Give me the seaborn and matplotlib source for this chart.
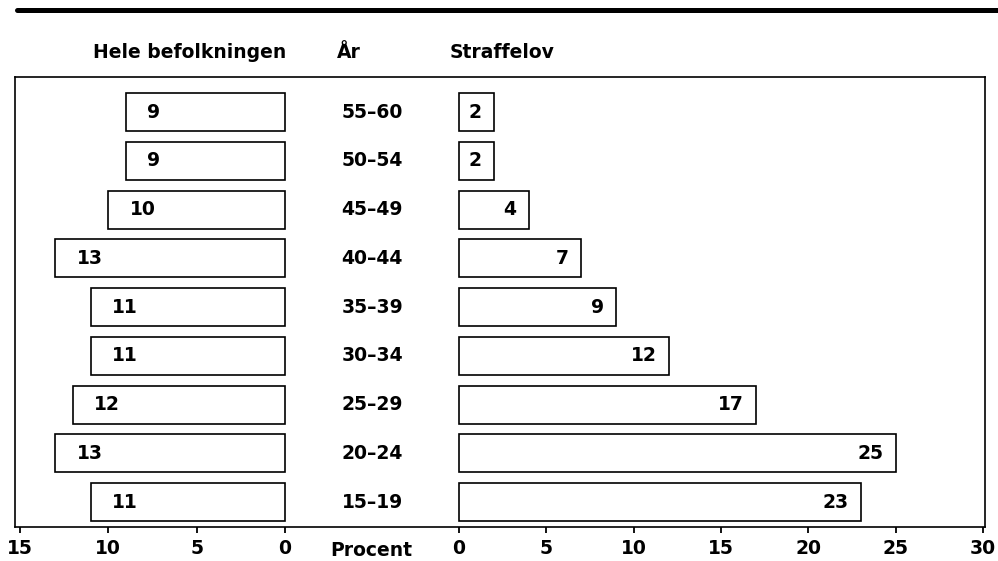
import pandas as pd
import matplotlib.pyplot as plt
import seaborn as sns
from matplotlib.lines import Line2D

# data, top to bottom
alder = ["55–60", "50–54", "45–49", "40–44", "35–39", "30–34", "25–29", "20–24", "15–19"]
hele_befolkningen = [9, 9, 10, 13, 11, 11, 12, 13, 11]
straffelov = [2, 2, 4, 7, 9, 12, 17, 25, 23]
venstre_ticks = [15, 10, 5, 0]
hoejre_ticks = [0, 5, 10, 15, 20, 25, 30]

df_l = pd.DataFrame({"alder": alder, "procent": hele_befolkningen})
df_r = pd.DataFrame({"alder": alder, "procent": straffelov})

sns.set_style("white")
plt.rcParams["font.family"] = ["DejaVu Sans"]
plt.rcParams["font.weight"] = "bold"
plt.rcParams["text.color"] = "black"
plt.rcParams["xtick.color"] = "black"
plt.rcParams["axes.labelcolor"] = "black"

W, H = 998, 561
fig = plt.figure(figsize=(W / 100, H / 100), dpi=100)

def rect(x0, x1, y0=77, y1=527):
    return [x0 / W, 1 - y1 / H, (x1 - x0) / W, (y1 - y0) / H]

ylim = (8.51, -0.72)
fs = 13.5

# outer frame
frame = fig.add_axes(rect(15, 985))
frame.set_xlim(-20.3, 34.8)
frame.set_ylim(*ylim)
frame.set_xticks([0])
frame.set_xticklabels([""])
frame.set_yticks([])
for s in frame.spines.values():
    s.set_linewidth(1.2)
    s.set_color("black")
frame.tick_params(axis="x", direction="out", length=4, width=1.3, color="black")

# age labels in the middle
for i, a in enumerate(alder):
    frame.text(0, i, a, ha="center", va="center", fontsize=fs, fontweight="bold")

# left side: whole population
axL = fig.add_axes(rect(15, 285))
axL.patch.set_alpha(0)
sns.barplot(data=df_l, x="procent", y="alder", orient="h", ax=axL,
            color="white", edgecolor="black", linewidth=1.2, width=0.78,
            saturation=1)
axL.set_xlim(15.28, 0)
axL.set_ylim(*ylim)
for i, v in enumerate(hele_befolkningen):
    axL.text(v - 1.2, i, str(v), ha="left", va="center", fontsize=fs, fontweight="bold")

# right side: straffelov
axR = fig.add_axes(rect(459, 985))
axR.patch.set_alpha(0)
sns.barplot(data=df_r, x="procent", y="alder", orient="h", ax=axR,
            color="white", edgecolor="black", linewidth=1.2, width=0.78,
            saturation=1)
axR.set_xlim(0, 30.11)
axR.set_ylim(*ylim)
for i, v in enumerate(straffelov):
    axR.text(v - 0.7, i, str(v), ha="right", va="center", fontsize=fs, fontweight="bold")

for ax, ticks in [(axL, venstre_ticks), (axR, hoejre_ticks)]:
    for p in ax.patches:
        p.set_clip_on(False)
    ax.set_xticks(ticks)
    ax.set_xticklabels([str(t) for t in ticks], fontsize=fs, fontweight="bold")
    ax.set_yticks([])
    ax.set_xlabel("")
    ax.set_ylabel("")
    for s in ax.spines.values():
        s.set_visible(False)
    ax.tick_params(axis="x", direction="out", length=4, width=1.3, color="black",
                   labelcolor="black", pad=5, bottom=True)

# headers
fig.text(286 / W, 1 - 52 / H, "Hele befolkningen", ha="right", va="center",
         fontsize=fs, fontweight="bold")
fig.text(349 / W, 1 - 52 / H, "År", ha="center", va="center",
         fontsize=fs, fontweight="bold")
fig.text(450 / W, 1 - 52 / H, "Straffelov", ha="left", va="center",
         fontsize=fs, fontweight="bold")
fig.text(371 / W, 1 - 551 / H, "Procent", ha="center", va="center",
         fontsize=fs, fontweight="bold")

# thick rule at the top
fig.add_artist(Line2D([17 / W, 1.0], [1 - 10 / H, 1 - 10 / H], color="black",
                      linewidth=3.6, transform=fig.transFigure))

fig.savefig("out.png", dpi=100)
